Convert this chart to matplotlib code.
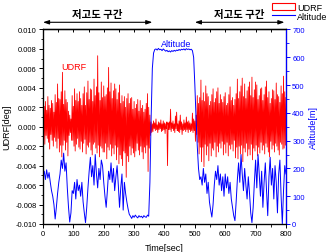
import numpy as np
import matplotlib
matplotlib.use("Agg")
import matplotlib.pyplot as plt
from matplotlib.patches import Patch
from matplotlib.lines import Line2D
from matplotlib.ticker import MultipleLocator, FormatStrFormatter

plt.rcParams['font.family'] = ['Liberation Sans', 'Noto Sans CJK KR', 'DejaVu Sans']

# --- data ---
# UDRF sampled every 2 s, in 1e-3 deg
udrf_time = np.arange(0, 801, 2)
udrf_milli = [
    0.5, -1.2, 2.1, -1.8, 2.6, -0.9, 1.7, -1.2, 3.1, -1.6, 2.2, -2.3, 1.9, -0.8, 2.7, -1.4, 2.4, -2.0, 1.5, -1.1,
    3.3, -1.5, 2.5, -2.2, 4.4, -1.2, 2.9, -2.6, 2.8, -1.9, 3.6, -3.1, 5.6, -1.9, 2.3, -1.4, 3.7, -2.4, 2.8, -1.6,
    2.5, -3.0, 1.6, -0.9, 1.2, -0.6, 0.8, -1.4, 3.2, -1.4, 2.1, -2.0, 3.9, -2.5, 2.7, -1.8, 3.4, -1.2, 2.6, -2.1,
    3.6, -2.3, 2.9, -1.5, 2.2, -2.6, 3.4, -1.7, 4.1, -1.3, 2.2, -2.8, 3.5, -1.9, 4.7, -2.1, 2.8, -1.6, 3.9, -2.4,
    3.8, -2.9, 2.6, -1.8, 4.9, -1.6, 3.2, -2.2, 4.1, -2.7, 7.3, -1.9, 3.5, -3.1, 2.7, -2.0, 4.6, -2.2, 3.0, -2.6,
    4.2, -2.6, 3.1, -1.7, 3.3, -3.3, 4.0, -2.1, 6.1, -2.4, 3.6, -1.8, 4.5, -3.0, 2.9, -2.2, 3.7, -2.8, 4.4, -1.9,
    3.9, -3.4, 2.8, -2.1, 3.5, -3.8, 4.3, -2.9, 2.4, -3.3, 3.2, -4.0, 2.6, -2.5, 3.1, -2.7, 2.0, -5.2, 2.9, -3.0,
    3.4, -3.6, 2.4, -2.0, 2.9, -2.9, 3.0, -2.2, 1.8, -2.7, 2.6, -3.1, 1.9, -2.5, 2.3, -1.7, 2.8, -2.4, 1.6, -2.9,
    2.7, -2.0, 1.9, -2.6, 2.2, -3.3, 1.5, -2.1, 1.8, -2.7, 2.4, -1.9, 3.4, -4.6, 2.0, -2.2, 1.2, -0.9, 0.5, -0.6,
    0.3, -0.5, 0.6, -0.2, 0.4, -0.4, 0.8, -0.3, 0.2, -0.6, 0.5, -0.3, 0.4, -0.2, 0.7, -0.5, 0.3, -0.4, 0.6, -0.3,
    0.4, -0.7, 0.3, -0.2, 0.5, -4.0, 0.4, -0.3, 0.5, -0.3, 1.8, -0.5, 0.4, -0.2, 0.6, -0.4, 0.3, -0.6, 1.1, -0.2,
    1.5, -0.4, 0.3, -0.5, 0.6, -0.6, 1.2, -0.3, 0.5, -0.8, 0.3, -0.4, 0.7, -0.3, 0.4, -0.5, 1.0, -0.3, 0.5, -0.6,
    0.6, -0.3, 0.4, -0.5, 0.3, -0.4, 1.4, -0.6, 0.8, -0.4, 0.6, -1.5, 1.2, -0.8, 3.2, -1.6, 2.4, -2.8, 3.0, -2.1,
    4.8, -3.6, 2.7, -2.1, 3.5, -4.1, 2.6, -1.8, 4.2, -2.9, 3.4, -2.0, 3.1, -3.5, 2.2, -1.7, 2.6, -3.0, 3.3, -2.2,
    3.9, -2.4, 2.5, -1.6, 2.9, -3.1, 3.6, -2.0, 4.0, -2.6, 2.4, -1.7, 3.3, -2.2, 2.8, -1.5, 2.5, -2.9, 3.1, -1.8,
    3.5, -2.7, 2.2, -1.6, 2.4, -3.0, 3.3, -1.9, 4.1, -2.3, 2.7, -1.8, 3.0, -2.5, 2.2, -1.4, 2.8, -3.2, 3.4, -2.1,
    4.9, -3.3, 2.9, -2.0, 3.6, -2.8, 4.2, -1.9, 5.0, -3.6, 3.1, -2.2, 4.4, -2.6, 2.9, -1.7, 3.7, -3.0, 4.1, -2.3,
    4.6, -2.9, 3.2, -1.8, 5.1, -3.4, 3.0, -2.2, 3.8, -2.5, 4.6, -1.9, 4.3, -3.0, 2.8, -2.1, 3.2, -2.7, 3.9, -1.6,
    4.0, -2.4, 2.7, -1.9, 3.3, -2.8, 4.1, -1.7, 4.7, -2.1, 3.0, -2.6, 3.6, -3.1, 2.4, -1.5, 2.9, -2.3, 3.8, -1.9,
    3.7, -2.6, 2.8, -1.7, 4.5, -2.0, 3.3, -2.4, 3.1, -2.9, 2.5, -1.6, 4.2, -1.8, 3.4, -2.3, 5.2, -2.2, 3.6, -1.9,
    3.0,
]

# altitude sampled every 4 s, in m
alt_time = np.arange(0, 801, 4)
altitude_m = [
    175, 190, 160, 195, 165, 185, 150, 120, 100, 70,
    18, 60, 110, 150, 180, 230, 200, 255, 190, 220,
    130, 60, 7, 40, 120, 110, 150, 90, 160, 120,
    140, 100, 150, 80, 40, 5, 60, 130, 190, 240,
    170, 210, 140, 250, 180, 130, 200, 160, 230, 210,
    150, 100, 60, 120, 190, 160, 220, 150, 200, 120,
    170, 210, 140, 60, 130, 180, 50, 150, 110, 80,
    55, 35, 28, 20, 30, 24, 32, 26, 22, 30,
    25, 28, 22, 30, 26, 24, 32, 28, 150, 380,
    560, 615, 628, 630, 626, 632, 627, 629, 624, 630,
    626, 622, 625, 620, 623, 619, 624, 621, 625, 622,
    626, 624, 628, 625, 629, 627, 630, 626, 631, 628,
    630, 627, 629, 624, 600, 500, 380, 280, 200, 160,
    170, 140, 200, 150, 180, 110, 150, 80, 50, 25,
    70, 140, 190, 160, 210, 140, 180, 120, 170, 100,
    180, 130, 170, 110, 150, 90, 60, 30, 12, 80,
    160, 220, 150, 250, 180, 120, 200, 140, 90, 170,
    110, 40, 5, 60, 150, 230, 130, 250, 180, 100,
    190, 60, 150, 220, 120, 30, 170, 240, 140, 200,
    90, 210, 150, 40, 180, 230, 100, 0, 120, 210,
    180,
]

udrf = np.array(udrf_milli) * 1e-3

segments = [(0, 360), (500, 795)]
segment_label = "저고도 구간"

# --- plot ---
fig = plt.figure(figsize=(3.27, 2.53), dpi=100)
ax = fig.add_axes([0.1315, 0.1107, 0.743, 0.7688])
ax2 = ax.twinx()

ax.plot(udrf_time, udrf, color='red', lw=0.6)
ax2.plot(alt_time, altitude_m, color='blue', lw=0.7)

ax.set_xlim(0, 800)
ax.set_ylim(-0.010, 0.010)
ax2.set_ylim(0, 700)

ax.xaxis.set_major_locator(MultipleLocator(100))
ax.xaxis.set_minor_locator(MultipleLocator(50))
ax.yaxis.set_major_locator(MultipleLocator(0.002))
ax.yaxis.set_minor_locator(MultipleLocator(0.001))
ax.yaxis.set_major_formatter(FormatStrFormatter('%.3f'))
ax2.yaxis.set_major_locator(MultipleLocator(100))
ax2.yaxis.set_minor_locator(MultipleLocator(50))

ax.tick_params(which='both', direction='out', labelsize=5.5, pad=1.5)
ax.tick_params(which='major', length=3, width=0.7)
ax.tick_params(which='minor', length=1.8, width=0.6)
ax2.tick_params(which='both', direction='out', colors='blue', labelsize=5.5, pad=1.5)
ax2.tick_params(which='major', length=3, width=0.7)
ax2.tick_params(which='minor', length=1.8, width=0.6)

top = ax.secondary_xaxis('top')
top.xaxis.set_major_locator(MultipleLocator(50))
top.tick_params(direction='in', length=2.5, width=0.7, labeltop=False)

for s in ['left', 'bottom', 'top']:
    ax.spines[s].set_linewidth(0.9)
ax2.spines['right'].set_color('blue')
ax2.spines['right'].set_linewidth(0.9)
top.spines['top'].set_linewidth(0.9)

ax.set_xlabel('Time[sec]', fontsize=6.5, labelpad=4)
ax.set_ylabel('UDRF[deg]', fontsize=6.5, labelpad=3)
ax2.set_ylabel('Altitude[m]', fontsize=6.5, color='blue', labelpad=3)

ax.text(100, 0.0062, 'UDRF', color='red', fontsize=6.5, ha='center', va='center')
ax2.text(438, 651, 'Altitude', color='blue', fontsize=6.5, ha='center', va='center')

trans = ax.get_xaxis_transform()
for x0, x1 in segments:
    ax.annotate('', xy=(x0, 1.037), xytext=(x1, 1.037), xycoords=trans,
                textcoords=trans, annotation_clip=False,
                arrowprops=dict(arrowstyle='<|-|>,head_length=0.35,head_width=0.12',
                                color='black', lw=0.8, shrinkA=0, shrinkB=0))
    ax.text((x0 + x1) / 2, 1.08, segment_label, transform=trans, ha='center',
            va='center', fontsize=7.5, fontweight='bold', fontfamily='Noto Sans CJK KR')

handles = [Patch(facecolor='none', edgecolor='red', lw=0.8),
           Line2D([], [], color='blue', lw=0.8)]
fig.legend(handles, ['UDRF', 'Altitude'], loc='upper right',
           bbox_to_anchor=(1.02, 1.01), frameon=False, fontsize=6.5,
           handlelength=2.5, handleheight=0.9, handletextpad=0.25,
           labelspacing=0.0, borderpad=0.2)

fig.savefig('out.png', dpi=100)
